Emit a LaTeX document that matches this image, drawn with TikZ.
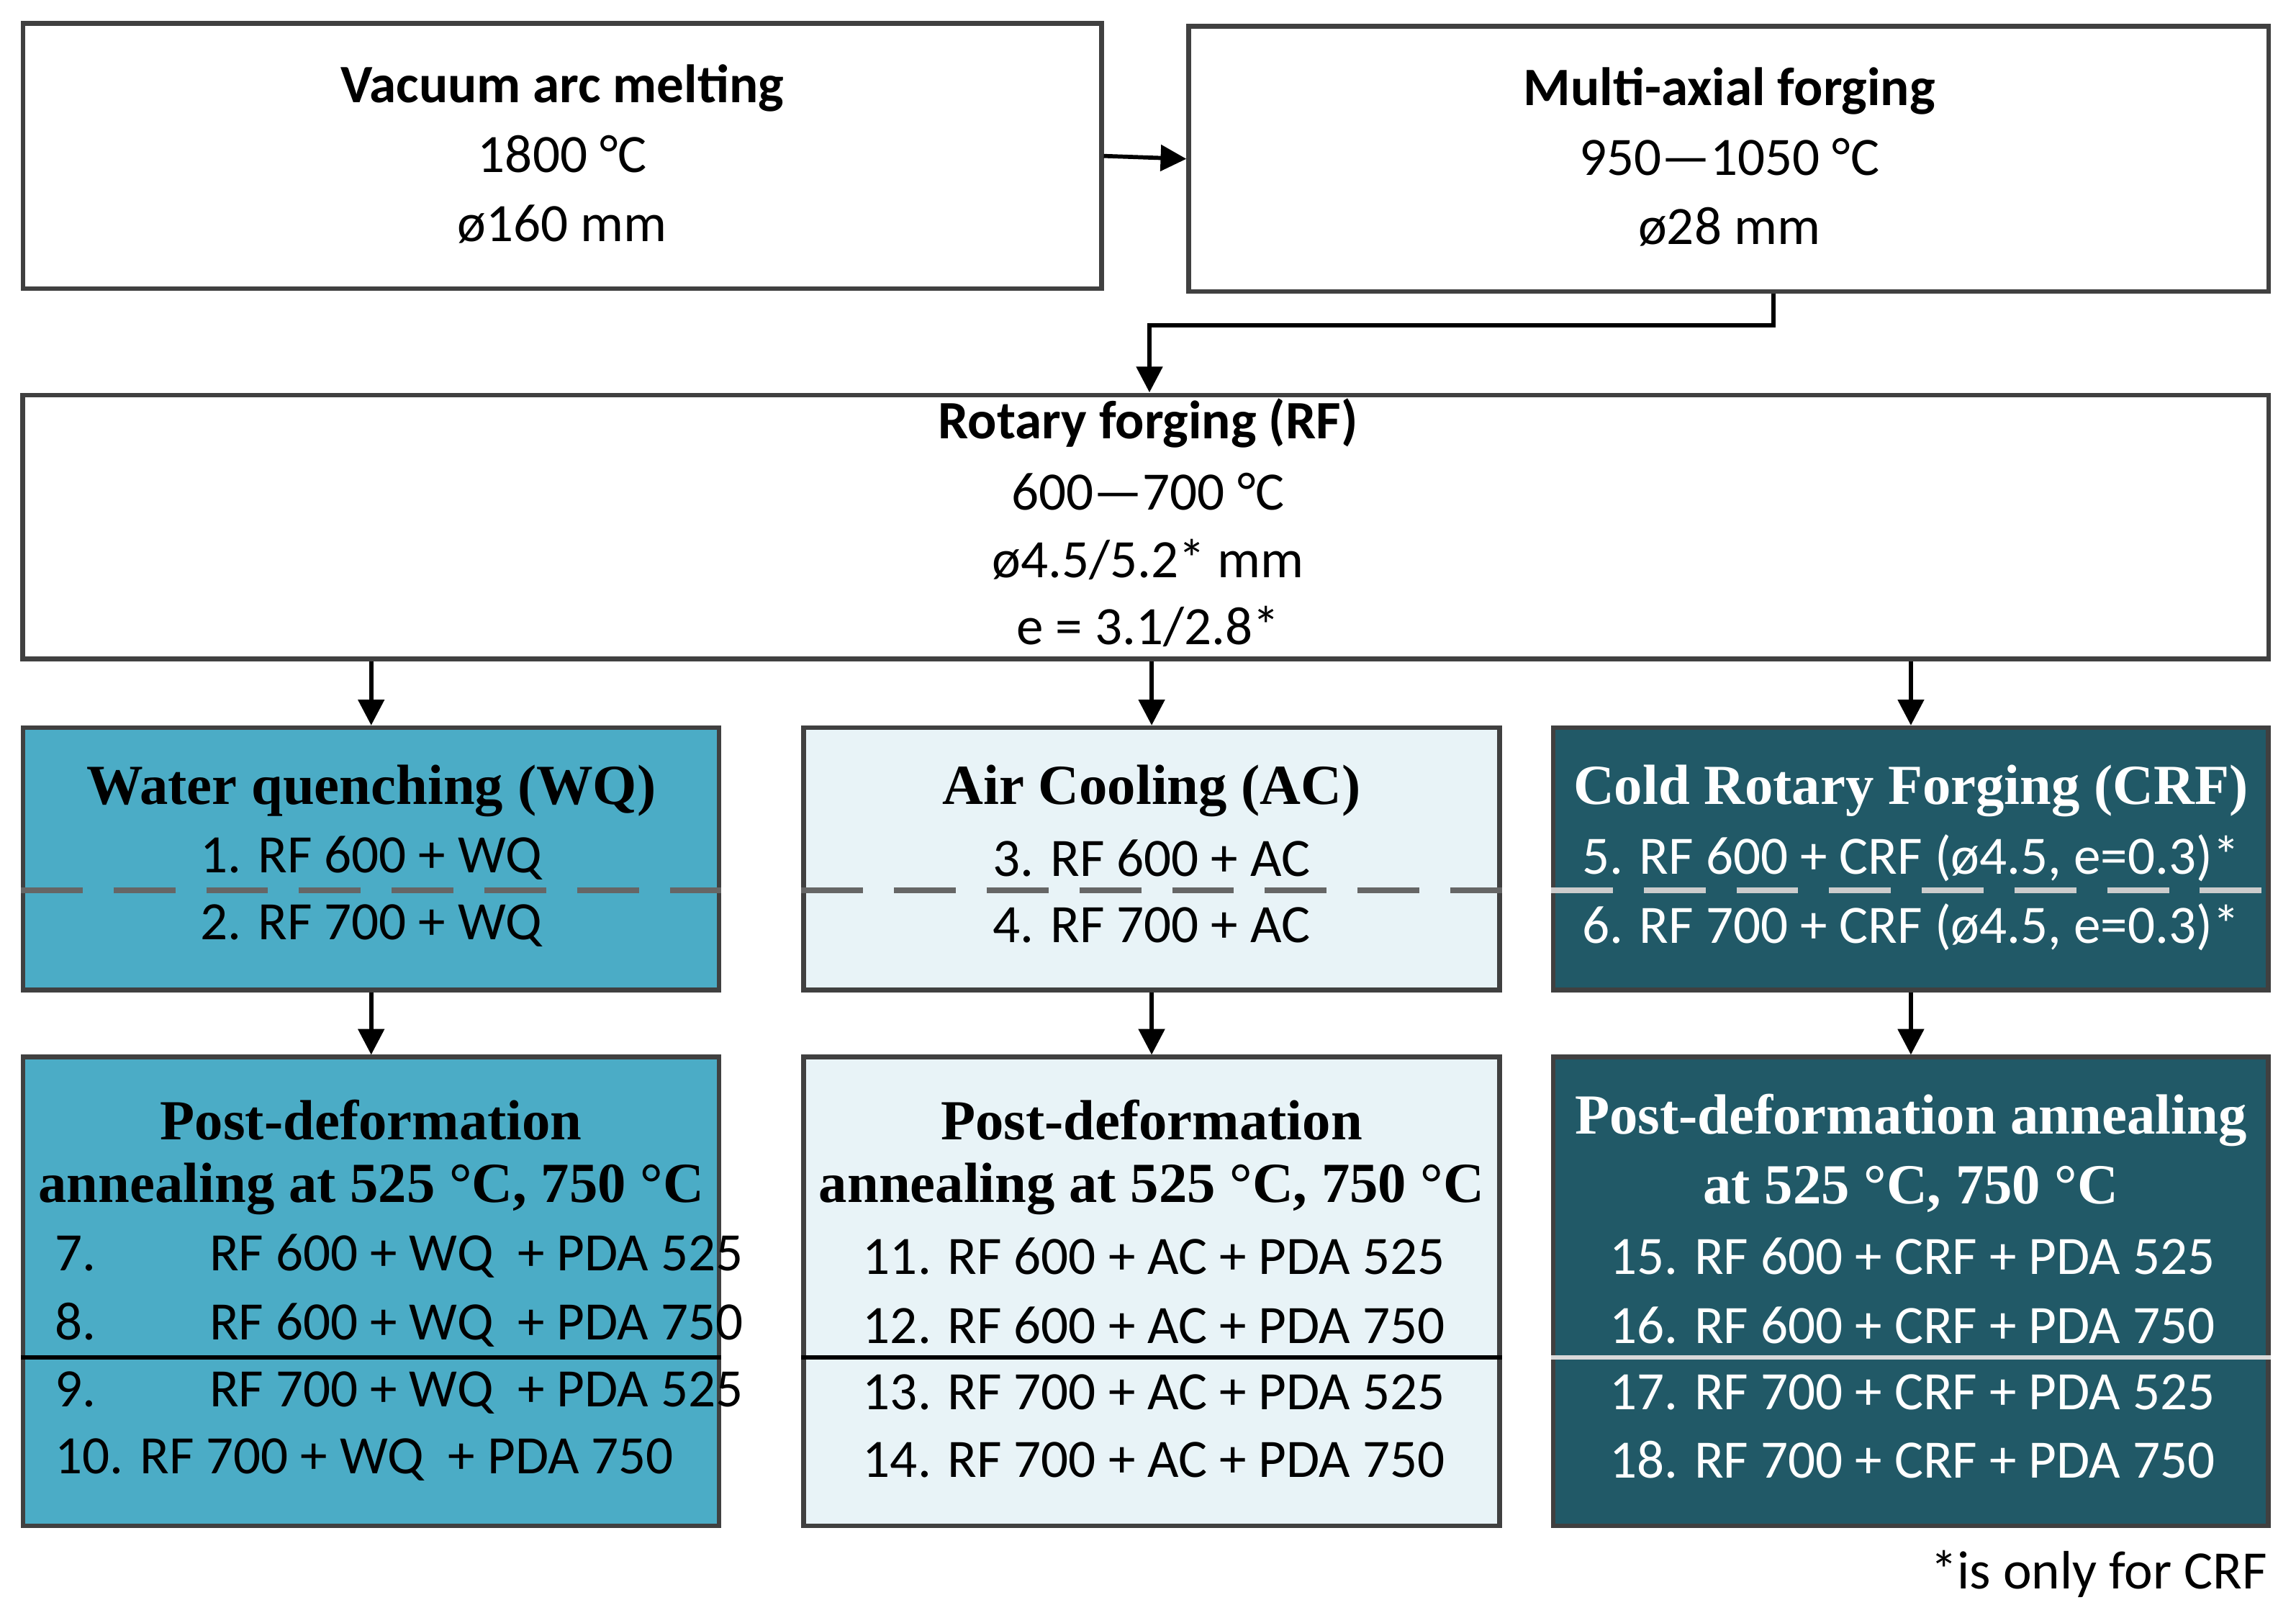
\documentclass[tikz,border=0pt]{standalone}
\usepackage{fontspec}
\setmainfont{Carlito}
\newfontfamily\tnr{Liberation Serif}
\usetikzlibrary{arrows.meta}
\definecolor{wqc}{HTML}{4BACC6}
\definecolor{acc}{HTML}{E8F3F7}
\definecolor{crfc}{HTML}{215967}
\definecolor{bord}{HTML}{404040}
\begin{document}
\begin{tikzpicture}[x=0.01cm,y=-0.01cm,
  box/.style={draw=bord,line width=0.9pt,inner sep=0pt},
  arr/.style={-{Triangle[length=5pt,width=5pt]},line width=0.8pt},
  bt/.style={font=\fontsize{10.5}{12}\selectfont,inner sep=0pt},
  ht/.style={font=\fontsize{10.5}{12}\selectfont\bfseries,inner sep=0pt},
  st/.style={font=\tnr\fontsize{11}{13}\selectfont\bfseries,inner sep=0pt},
  dsh/.style={dash pattern=on 12pt off 6pt,line width=1pt},
]
\useasboundingbox (0,0) rectangle (1568,1108);
% top boxes
\node[box,minimum width=7.36cm,minimum height=1.81cm] (vam) at (384,106.5) {};
\node[box,minimum width=7.37cm,minimum height=1.81cm] (maf) at (1180.5,108.5) {};
\node[box,minimum width=15.33cm,minimum height=1.80cm] (rf) at (782.5,360) {};
\node[ht] (vam1) at (384,60) {Vacuum arc melting};
\node[bt] (vam2) at (384,105) {1800 °C};
\node[bt] (vam3) at (384,153) {ø160 mm};
\node[ht] (maf1) at (1181,62) {Multi-axial forging};
\node[bt] (maf2) at (1181,107) {950—1050 °C};
\node[bt] (maf3) at (1181,155) {ø28 mm};
\node[ht] (rf1) at (784,289) {Rotary forging (RF)};
\node[bt] (rf2) at (784,336) {600—700 °C};
\node[bt] (rf3) at (784,382) {ø4.5/5.2* mm};
\node[bt] (rf4) at (784,428) {e = 3.1/2.8*};
% row 1
\node[box,fill=wqc,minimum width=4.75cm,minimum height=1.79cm] (wq) at (253.5,586.5) {};
\node[box,fill=acc,minimum width=4.75cm,minimum height=1.79cm] (ac) at (786.5,586.5) {};
\node[box,fill=crfc,minimum width=4.88cm,minimum height=1.79cm] (crf) at (1305,586.5) {};
\draw[dsh,draw=gray!80!black] (wq.west |- 0,608) -- (wq.east |- 0,608);
\draw[dsh,draw=gray!80!black] (ac.west |- 0,608) -- (ac.east |- 0,608);
\draw[dsh,draw=gray!40] (crf.west |- 0,608) -- (crf.east |- 0,608);
\node[st] (wq1) at (253.5,540) {Water quenching (WQ)};
\node[bt] (wq2) at (253.5,586) {1. RF 600 + WQ};
\node[bt] (wq3) at (253.5,632) {2. RF 700 + WQ};
\node[st] (ac1) at (786.5,540) {Air Cooling (AC)};
\node[bt] (ac2) at (786.5,586) {3. RF 600 + AC};
\node[bt] (ac3) at (786.5,632) {4. RF 700 + AC};
\node[st,text=white] (crf1) at (1305,540) {Cold Rotary Forging (CRF)};
\node[bt,text=white] (crf2) at (1305,586) {5. RF 600 + CRF (ø4.5, e=0.3)*};
\node[bt,text=white] (crf3) at (1305,633) {6. RF 700 + CRF (ø4.5, e=0.3)*};
% row 2
\node[box,fill=wqc,minimum width=4.75cm,minimum height=3.20cm] (wqp) at (253.5,882) {};
\node[box,fill=acc,minimum width=4.75cm,minimum height=3.20cm] (acp) at (786.5,882) {};
\node[box,fill=crfc,minimum width=4.88cm,minimum height=3.20cm] (crfp) at (1305,882) {};
\draw[line width=0.9pt] (wqp.west |- 0,927) -- (wqp.east |- 0,927);
\draw[line width=0.9pt] (acp.west |- 0,927) -- (acp.east |- 0,927);
\draw[line width=0.9pt,draw=gray!30] (crfp.west |- 0,927) -- (crfp.east |- 0,927);
\node[st] (wqp1) at (253.5,765) {Post-deformation};
\node[st] (wqp2) at (253.5,812) {annealing at 525 °C, 750 °C};
\node[bt,anchor=west] (wqp3) at (37,858) {7.\hspace{22pt}RF 600 + WQ\ \ + PDA 525};
\node[bt,anchor=west] (wqp4) at (37,905) {8.\hspace{22pt}RF 600 + WQ\ \ + PDA 750};
\node[bt,anchor=west] (wqp5) at (37,951) {9.\hspace{22pt}RF 700 + WQ\ \ + PDA 525};
\node[bt,anchor=west] (wqp6) at (37,997) {10. RF 700 + WQ\ \ + PDA 750};
\node[st] (acp1) at (786.5,765) {Post-deformation};
\node[st] (acp2) at (786.5,812) {annealing at 525 °C, 750 °C};
\node[bt] (acp3) at (788,858) {11. RF 600 + AC + PDA 525};
\node[bt] (acp4) at (788,905) {12. RF 600 + AC + PDA 750};
\node[bt] (acp5) at (788,951) {13. RF 700 + AC + PDA 525};
\node[bt] (acp6) at (788,997) {14. RF 700 + AC + PDA 750};
\node[st,text=white] (crfp1) at (1305,765) {Post-deformation annealing};
\node[st,text=white] (crfp2) at (1305,812) {at 525 °C, 750 °C};
\node[bt,text=white] (crfp3) at (1306,858) {15. RF 600 + CRF + PDA 525};
\node[bt,text=white] (crfp4) at (1306,905) {16. RF 600 + CRF + PDA 750};
\node[bt,text=white] (crfp5) at (1306,951) {17. RF 700 + CRF + PDA 525};
\node[bt,text=white] (crfp6) at (1306,997) {18. RF 700 + CRF + PDA 750};
\node[bt,anchor=east] (note) at (1549,1075) {*is only for CRF};
% connectors
\draw[arr] (vam.east) -- (maf.west);
\draw[arr] ([xshift=0.305cm]maf.south) |- (785,222) -- (785,268);
\draw[arr] (rf.south -| wq.north) -- (wq.north);
\draw[arr] (rf.south -| ac.north) -- (ac.north);
\draw[arr] (rf.south -| crf.north) -- (crf.north);
\draw[arr] (wq.south) -- (wqp.north);
\draw[arr] (ac.south) -- (acp.north);
\draw[arr] (crf.south) -- (crfp.north);
\end{tikzpicture}
\end{document}
